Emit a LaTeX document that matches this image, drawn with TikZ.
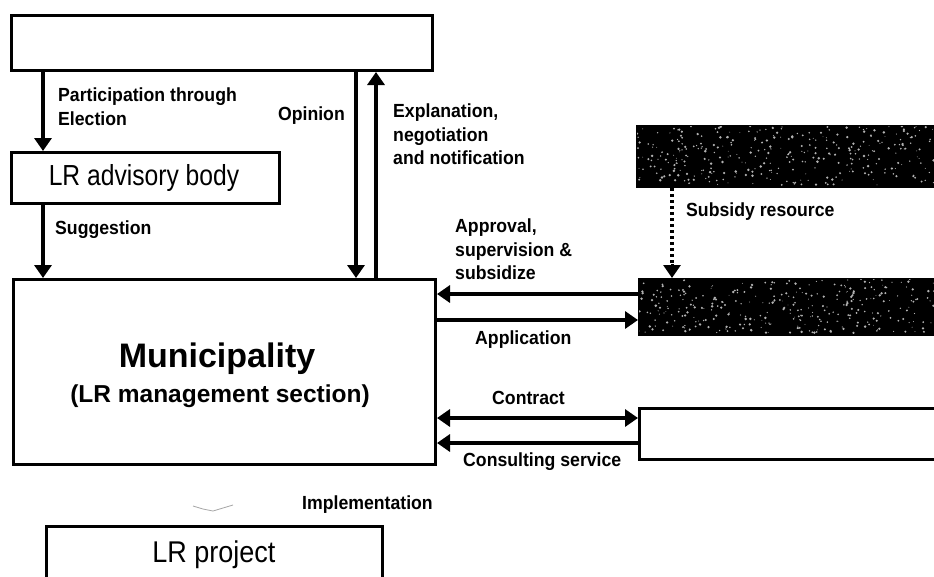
\documentclass[tikz,border=0pt]{standalone}
\usepackage{fontspec}
\setmainfont{Liberation Sans}
\newfontfamily\narrowsans[FakeStretch=0.93]{Liberation Sans}
\newfontfamily\projsans[FakeStretch=0.9]{Liberation Sans}
\newfontfamily\boxsans[FakeStretch=0.85]{Liberation Sans}
\usetikzlibrary{arrows.meta}
\begin{document}
\begin{tikzpicture}[x=1pt,y=-1pt,
  box/.style={draw,line width=3pt,inner sep=0pt},
  darkbox/.style={draw,fill=black,line width=2pt,inner sep=0pt},
  tip/.style={-{Triangle[length=13pt,width=17pt]}},
  flow/.style={line width=4pt,tip},
  biflow/.style={line width=4pt,{Triangle[length=13pt,width=17pt]}-{Triangle[length=13pt,width=17pt]}},
  lbl/.style={font=\narrowsans\fontsize{19}{23.5}\selectfont\bfseries,align=left,inner sep=0pt},
  boxtext/.style={font=\boxsans\fontsize{29}{32}\selectfont,inner sep=0pt}]
\useasboundingbox (0,0) rectangle (934,576);
\fill[white] (0,0) rectangle (934,576);

% boxes
\node[box,minimum width=421pt,minimum height=55pt,anchor=north west] (people) at (10,14) {};
\node[box,minimum width=268pt,minimum height=51pt,anchor=north west] (advisory) at (10,151) {};
\node[boxtext,anchor=base] (advtext) at (144,185) {LR advisory body};
\node[box,minimum width=422pt,minimum height=185pt,anchor=north west] (muni) at (12,278) {};
\node[font=\fontsize{34}{36}\selectfont\bfseries,anchor=base,inner sep=0pt] (munititle) at (217,367) {Municipality};
\node[font=\fontsize{24.5}{27}\selectfont\bfseries,anchor=base,inner sep=0pt] (munisub) at (220,402) {(LR management section)};
\node[box,minimum width=336pt,minimum height=70pt,anchor=north west] (project) at (45,525) {};
\node[font=\projsans\fontsize{30}{32}\selectfont,anchor=base,inner sep=0pt] (projtext) at (214,562) {LR project};

\node[darkbox,minimum width=302pt,minimum height=61pt,anchor=north west] (gov) at (636,125) {};
\node[darkbox,minimum width=300pt,minimum height=56pt,anchor=north west] (pref) at (638,278) {};
\node[box,minimum width=302pt,minimum height=51pt,anchor=north west] (consult) at (638,407) {};

% speckle texture on the dark boxes
\pgfmathsetseed{7}
\begin{scope}
  \clip (637,126) rectangle (934,185);
  \foreach \i in {1,...,340}{
    \pgfmathsetmacro{\px}{637+297*rnd}
    \pgfmathsetmacro{\py}{126+59*rnd}
    \pgfmathsetmacro{\pr}{0.4+1.0*rnd}
    \fill[white!70!black] (\px,\py) circle[radius=\pr pt];
  }
\end{scope}
\begin{scope}
  \clip (639,279) rectangle (934,333);
  \foreach \i in {1,...,320}{
    \pgfmathsetmacro{\px}{639+295*rnd}
    \pgfmathsetmacro{\py}{279+54*rnd}
    \pgfmathsetmacro{\pr}{0.4+1.0*rnd}
    \fill[white!70!black] (\px,\py) circle[radius=\pr pt];
  }
\end{scope}

% connectors between the upper boxes and the municipality
\draw[flow] (people.south west -| 43,0) -- (advisory.north west -| 43,0);
\draw[flow] (advisory.south west -| 43,0) -- (muni.north west -| 43,0);
\draw[flow] (people.south west -| 356,0) -- (muni.north west -| 356,0);
\draw[flow] (muni.north west -| 376,0) -- (people.south west -| 376,0);

\node[lbl,anchor=north west] (lpart) at (58,88) {Participation through\\Election};
\node[lbl,anchor=north west] (lsugg) at (55,221) {Suggestion};
\node[lbl,anchor=north east] (lopin) at (345,107) {Opinion};
\node[lbl,anchor=north west] (lexpl) at (393,104) {Explanation,\\negotiation\\and notification};

% subsidy flow
\draw[line width=3.5pt,dash pattern=on 3pt off 3pt] (gov.south west -| 672,0) -- (672,266);
\coordinate (subend) at (pref.north west -| 672,0);
\draw[line width=3pt,tip] (672,264) -- (subend);
\node[lbl,anchor=north west] (lsub) at (686,203) {Subsidy resource};

% municipality <-> prefecture / consultant
\draw[flow] (pref.west |- 0,294) -- (muni.east |- 0,294);
\draw[flow] (muni.east |- 0,320) -- (pref.west |- 0,320);
\draw[biflow] (muni.east |- 0,418) -- (consult.west |- 0,418);
\draw[flow] (consult.west |- 0,443) -- (muni.east |- 0,443);

\node[lbl,anchor=north west] (lappr) at (455,219) {Approval,\\supervision \&\\subsidize};
\node[lbl,anchor=north west] (lappl) at (475,331) {Application};
\node[lbl,anchor=north west] (lcont) at (492,391) {Contract};
\node[lbl,anchor=north west] (lcons) at (463,453) {Consulting service};
\node[lbl,anchor=north west] (limpl) at (302,496) {Implementation};

% faint mark above the project box
\draw[black!35,line width=0.8pt] (193,506) -- (203,509) -- (213,511) -- (223,508) -- (233,505);
\end{tikzpicture}
\end{document}
